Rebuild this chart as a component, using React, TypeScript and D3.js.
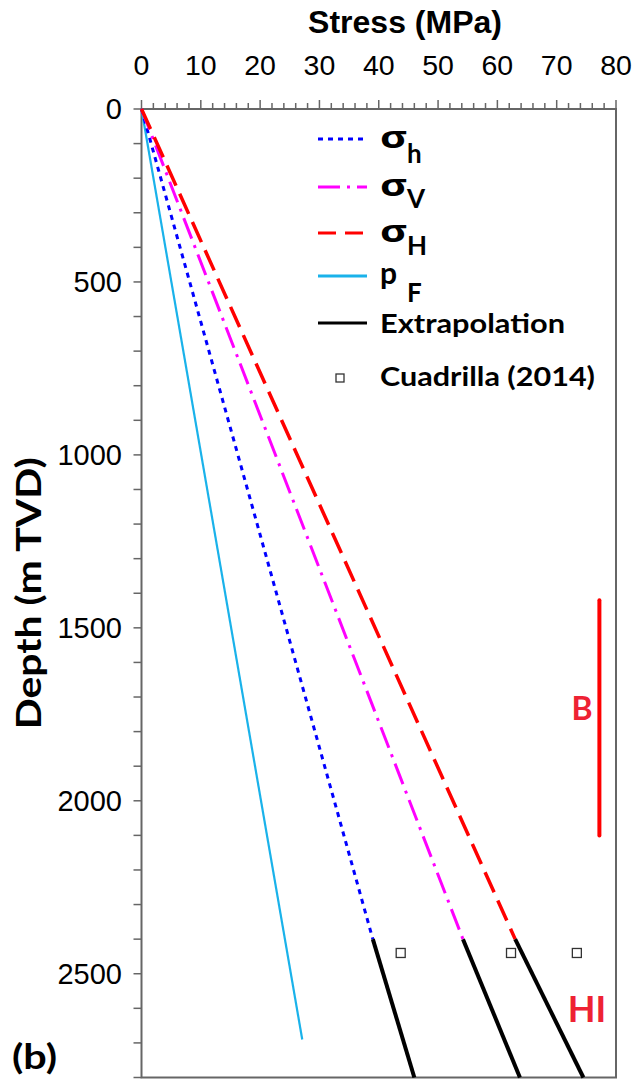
import React from "react";
import * as d3 from "d3";

// ---- data ----
const stressTicks = [0, 10, 20, 30, 40, 50, 60, 70, 80];
const depthTicks = [0, 500, 1000, 1500, 2000, 2500];

const modelDepth = [0, 2400];
const sigmaMin = [0, 39.0]; // σh
const sigmaVert = [0, 54.2]; // σV
const sigmaMax = [0, 63.0]; // σH

const pFDepth = [0, 2690];
const pFStress = [0, 27.1];

const extrapDepth = [2400, 2800];
const extrapMin = [39.0, 46.0];
const extrapVert = [54.2, 63.8];
const extrapMax = [63.0, 74.5];

const cuadrillaDepth = 2440;
const cuadrillaStress = [43.7, 62.3, 73.4];

const bDepth = [1420, 2100];
const bStress = 77.2;

const W = 643;
const H = 1079;

export default function App() {
  const x = d3.scaleLinear().domain([0, 80]).range([141.5, 616]);
  const y = d3.scaleLinear().domain([0, 2800]).range([109, 1077.5]);

  const line = d3
    .line<[number, number]>()
    .x((d) => x(d[0]))
    .y((d) => y(d[1]));

  const pts = (s: number[], dep: number[]) =>
    s.map((v, i) => [v, dep[i]] as [number, number]);

  const minorX = d3.range(0, 80.001, 2);
  const minorY = d3.range(0, 2800.001, 100);

  const numFont = "'Liberation Sans', Arial, sans-serif";
  const boldFont = "Lato, 'Open Sans', sans-serif";
  const frame = "#666";

  const legendY = [139, 187, 233, 276, 323];
  const subDy = [24, 21, 22];
  const lx1 = 318;
  const lx2 = 367;
  const tx = 380;

  return (
    <svg
      width={W}
      height={H}
      style={{ position: "absolute", left: 0, top: 0, background: "#fff" }}
    >
      {/* frame */}
      <rect
        x={x(0)}
        y={y(0)}
        width={x(80) - x(0)}
        height={y(2800) - y(0)}
        fill="none"
        stroke={frame}
        strokeWidth={2}
      />
      {/* top ticks */}
      {minorX.map((v) => (
        <line
          key={"tx" + v}
          x1={x(v)}
          x2={x(v)}
          y1={y(0)}
          y2={y(0) - (v % 10 === 0 ? 9 : 6)}
          stroke={frame}
          strokeWidth={1.5}
        />
      ))}
      {stressTicks.map((v) => (
        <text
          key={"tl" + v}
          x={x(v)}
          y={75}
          textAnchor="middle"
          fontFamily={numFont}
          fontSize={28.5}
          fill="#000"
        >
          {v}
        </text>
      ))}
      {/* left ticks */}
      {minorY.map((v) => (
        <line
          key={"ly" + v}
          x1={x(0)}
          x2={x(0) - 8}
          y1={y(v)}
          y2={y(v)}
          stroke={frame}
          strokeWidth={1.5}
        />
      ))}
      {depthTicks.map((v) => (
        <text
          key={"yl" + v}
          x={122}
          y={y(v)}
          dy="0.36em"
          textAnchor="end"
          fontFamily={numFont}
          fontSize={29}
          fill="#000"
        >
          {v}
        </text>
      ))}
      {/* axis titles */}
      <text
        x={405}
        y={33}
        textAnchor="middle"
        fontFamily={numFont}
        fontWeight="bold"
        fontSize={32}
      >
        Stress (MPa)
      </text>
      <text
        transform={`translate(41, ${y(1400)}) rotate(-90)`}
        textAnchor="middle"
        fontFamily={boldFont}
        fontWeight="bold"
        fontSize={34}
        textLength={272}
        lengthAdjust="spacingAndGlyphs"
      >
        Depth (m TVD)
      </text>

      {/* model lines */}
      <path
        d={line(pts(pFStress, pFDepth)) || ""}
        fill="none"
        stroke="#1ab2ea"
        strokeWidth={2.2}
      />
      <path
        d={line(pts(sigmaMin, modelDepth)) || ""}
        fill="none"
        stroke="#0000ff"
        strokeWidth={3}
        strokeDasharray="5 5"
      />
      <path
        d={line(pts(sigmaVert, modelDepth)) || ""}
        fill="none"
        stroke="#ff00ff"
        strokeWidth={3}
        strokeDasharray="22 7 3 7"
      />
      <path
        d={line(pts(sigmaMax, modelDepth)) || ""}
        fill="none"
        stroke="#ff0000"
        strokeWidth={3.5}
        strokeDasharray="22 9"
      />
      {/* extrapolation */}
      {[extrapMin, extrapVert, extrapMax].map((s, i) => (
        <path
          key={"ex" + i}
          d={line(pts(s, extrapDepth)) || ""}
          fill="none"
          stroke="#000"
          strokeWidth={4}
        />
      ))}
      {/* Cuadrilla points */}
      {cuadrillaStress.map((v, i) => (
        <rect
          key={"cq" + i}
          x={x(v) - 4.5}
          y={y(cuadrillaDepth) - 4.5}
          width={9}
          height={9}
          fill="#fff"
          stroke="#333"
          strokeWidth={1.3}
        />
      ))}
      {/* B bar */}
      <line
        x1={x(bStress)}
        x2={x(bStress)}
        y1={y(bDepth[0])}
        y2={y(bDepth[1])}
        stroke="#ff0000"
        strokeWidth={4}
        strokeLinecap="round"
      />
      <text
        x={582}
        y={720}
        textAnchor="middle"
        fontFamily={boldFont}
        fontWeight="bold"
        fontSize={32}
        fill="#ee2233"
      >
        B
      </text>
      <text
        x={587}
        y={1022}
        textAnchor="middle"
        fontFamily={boldFont}
        fontWeight="bold"
        fontSize={36}
        fill="#ee2233"
      >
        HI
      </text>
      <text
        x={12}
        y={1069}
        fontFamily={boldFont}
        fontWeight="bold"
        fontSize={34}
        textLength={45}
        lengthAdjust="spacingAndGlyphs"
      >
        (b)
      </text>

      {/* legend */}
      <line x1={lx1} x2={lx2} y1={legendY[0]} y2={legendY[0]} stroke="#0000ff" strokeWidth={3} strokeDasharray="5 5" />
      <line x1={lx1} x2={lx2} y1={legendY[1]} y2={legendY[1]} stroke="#ff00ff" strokeWidth={3} strokeDasharray="22 7 3 7" />
      <line x1={lx1} x2={lx2} y1={legendY[2]} y2={legendY[2]} stroke="#ff0000" strokeWidth={3} strokeDasharray="18 9" />
      <line x1={lx1} x2={lx2} y1={legendY[3]} y2={legendY[3]} stroke="#1ab2ea" strokeWidth={3} />
      <line x1={lx1} x2={lx2} y1={legendY[4]} y2={legendY[4]} stroke="#000" strokeWidth={3} />
      {["h", "V", "H"].map((sub, i) => (
        <g key={"sg" + i}>
          <text
            x={tx}
            y={legendY[i] + 9}
            fontFamily="'Open Sans', 'DejaVu Sans', sans-serif"
            fontWeight="bold"
            fontSize={30}
            textLength={27}
            lengthAdjust="spacingAndGlyphs"
          >
            σ
          </text>
          <text
            x={tx + 27}
            y={legendY[i] + subDy[i]}
            fontFamily={boldFont}
            fontWeight="bold"
            fontSize={26}
          >
            {sub}
          </text>
        </g>
      ))}
      <text x={tx} y={legendY[3] + 8} fontFamily={boldFont} fontWeight="bold" fontSize={30}>
        p
      </text>
      <text x={tx + 27} y={legendY[3] + 26} fontFamily={boldFont} fontWeight="bold" fontSize={26}>
        F
      </text>
      <text
        x={tx}
        y={legendY[4] + 10}
        fontFamily={boldFont}
        fontWeight="bold"
        fontSize={26}
        textLength={185}
        lengthAdjust="spacingAndGlyphs"
      >
        Extrapolation
      </text>
      <rect x={336} y={374} width={8} height={8} fill="#fff" stroke="#333" strokeWidth={1.3} />
      <text
        x={tx}
        y={386}
        fontFamily={boldFont}
        fontWeight="bold"
        fontSize={26}
        textLength={215}
        lengthAdjust="spacingAndGlyphs"
      >
        Cuadrilla (2014)
      </text>
    </svg>
  );
}
